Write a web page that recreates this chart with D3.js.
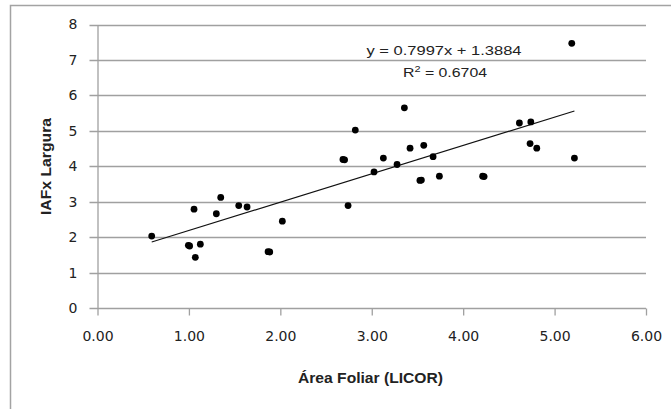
<!DOCTYPE html>
<html>
<head>
<meta charset="utf-8">
<script src="https://cdn.jsdelivr.net/npm/d3@7"></script>
<style>
  body { margin: 0; background: #fff; }
  svg { display: block; font-family: "Liberation Sans", Arial, sans-serif; }
</style>
</head>
<body>
<div id="chart"></div>
<script>
// data
var areaFoliar = [0.593, 0.994, 1.008, 1.056, 1.070, 1.125, 1.30, 1.348, 1.545, 1.636, 1.866, 1.884, 2.022,
  2.685, 2.703, 2.741, 2.82, 3.025, 3.127, 3.277, 3.357, 3.419, 3.527, 3.543, 3.569, 3.671, 3.74,
  4.213, 4.229, 4.615, 4.74, 4.732, 4.805, 5.188, 5.217]
var iafLargura = [2.03, 1.77, 1.75, 2.79, 1.43, 1.80, 2.66, 3.12, 2.89, 2.85, 1.59, 1.58, 2.45,
  4.19, 4.18, 2.89, 5.02, 3.84, 4.23, 4.05, 5.65, 4.51, 3.60, 3.61, 4.59, 4.27, 3.72,
  3.72, 3.71, 5.22, 5.25, 4.64, 4.51, 7.47, 4.23]
var xTicks = [0, 1, 2, 3, 4, 5, 6]
var yTicks = [0, 1, 2, 3, 4, 5, 6, 7, 8]
var slope = 0.7997, intercept = 1.3884, r2 = "0.6704"

var W = 671, H = 409
var plotLeft = 97.5, plotRight = 646, plotTop = 24.5, plotBottom = 308

var svg = d3.select("#chart").append("svg")
  .attr("width", W)
  .attr("height", H)

// outer chart border (runs off the right/bottom edge)
svg.append("rect")
  .attr("x", 10.5).attr("y", 5.5)
  .attr("width", 720).attr("height", 500)
  .attr("fill", "none")
  .attr("stroke", "#a3a3a3")
  .attr("stroke-width", 1.5)

var x = d3.scaleLinear().domain([0, 6]).range([plotLeft, plotRight])
var y = d3.scaleLinear().domain([0, 8]).range([plotBottom, plotTop])

// gridlines
svg.append("g").selectAll("line")
  .data(yTicks)
  .enter().append("line")
  .attr("x1", plotLeft - 8).attr("x2", plotRight)
  .attr("y1", function(d) { return Math.round(y(d)) + 0.5 })
  .attr("y2", function(d) { return Math.round(y(d)) + 0.5 })
  .attr("stroke", "#a0a0a0")
  .attr("stroke-width", 1.3)

// y axis
var yAxis = svg.append("g")
  .attr("transform", "translate(" + plotLeft + ",0)")
  .call(d3.axisLeft(y).tickValues(yTicks).tickSize(0).tickPadding(20).tickFormat(d3.format("d")))
yAxis.select(".domain").attr("stroke", "#a0a0a0").attr("stroke-width", 1.3)
yAxis.selectAll("text").attr("font-size", 14).attr("font-family", "DejaVu Sans").attr("fill", "#222")

// x axis
var xAxis = svg.append("g")
  .attr("transform", "translate(0," + (Math.round(plotBottom) + 0.5) + ")")
  .call(d3.axisBottom(x).tickValues(xTicks).tickSize(7).tickSizeOuter(0).tickPadding(16).tickFormat(d3.format(".2f")))
xAxis.select(".domain").remove()
xAxis.selectAll("line").attr("stroke", "#a0a0a0").attr("stroke-width", 1.3)
xAxis.selectAll("text").attr("font-size", 14).attr("font-family", "DejaVu Sans").attr("fill", "#222")

// trendline across the data range
var xmin = d3.min(areaFoliar), xmax = d3.max(areaFoliar)
svg.append("line")
  .attr("x1", x(xmin)).attr("y1", y(slope * xmin + intercept))
  .attr("x2", x(xmax)).attr("y2", y(slope * xmax + intercept))
  .attr("stroke", "#111")
  .attr("stroke-width", 1.2)

// points
svg.append("g").selectAll("circle")
  .data(areaFoliar)
  .enter().append("circle")
  .attr("cx", function(d) { return x(d) })
  .attr("cy", function(d, i) { return y(iafLargura[i]) })
  .attr("r", 3.4)
  .attr("fill", "#000")

// equation labels
svg.append("text")
  .attr("x", 444).attr("y", 55)
  .attr("text-anchor", "middle")
  .attr("font-size", 13).attr("fill", "#222")
  .attr("textLength", 155).attr("lengthAdjust", "spacingAndGlyphs")
  .text("y = " + slope + "x + " + intercept)
var r2t = svg.append("text")
  .attr("x", 445).attr("y", 77)
  .attr("text-anchor", "middle")
  .attr("font-size", 13).attr("fill", "#222")
  .attr("textLength", 84).attr("lengthAdjust", "spacingAndGlyphs")
r2t.append("tspan").text("R")
r2t.append("tspan").attr("font-size", 9).attr("dy", -5).text("2")
r2t.append("tspan").attr("dy", 5).text(" = " + r2)

// axis titles
svg.append("text")
  .attr("transform", "translate(51,166.5) rotate(-90)")
  .attr("text-anchor", "middle")
  .attr("font-size", 14).attr("font-weight", "bold").attr("fill", "#222")
  .attr("textLength", 97).attr("lengthAdjust", "spacingAndGlyphs")
  .text("IAFx Largura")
svg.append("text")
  .attr("x", 370.5).attr("y", 383)
  .attr("text-anchor", "middle")
  .attr("font-size", 14).attr("font-weight", "bold").attr("fill", "#222")
  .attr("textLength", 145).attr("lengthAdjust", "spacingAndGlyphs")
  .text("Área Foliar (LICOR)")
</script>
</body>
</html>
